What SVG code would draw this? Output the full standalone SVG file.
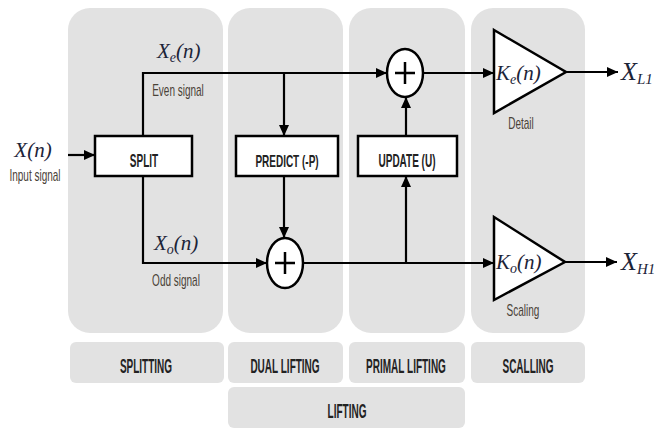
<svg xmlns="http://www.w3.org/2000/svg" width="657" height="431" viewBox="0 0 657 431">
<style>
.panel{fill:#e2e2e2}
.box{fill:#fff;stroke:#000;stroke-width:2.5}
.wire{fill:none;stroke:#000;stroke-width:2.2}
.lbl{font-family:"Liberation Sans",Arial,sans-serif;font-weight:bold;fill:#222;text-anchor:middle;font-size:10px}
.small{font-family:"Liberation Sans",Arial,sans-serif;fill:#4a4238;text-anchor:middle;font-size:10px}
.math{font-family:"Liberation Serif","Times New Roman",serif;font-style:italic;fill:#1c2438}
</style>
<defs>
<marker id="ah" markerUnits="userSpaceOnUse" markerWidth="12" markerHeight="12" viewBox="0 0 12 12" refX="11" refY="6" orient="auto">
<path d="M0,1 L11,6 L0,11 z" fill="#000"/>
</marker>
</defs>
<g id="panels">
<rect class="panel" x="68" y="8" width="155" height="325" rx="22"/>
<rect class="panel" x="228" y="8" width="115" height="325" rx="22"/>
<rect class="panel" x="349" y="8" width="116" height="325" rx="22"/>
<rect class="panel" x="471" y="8" width="114" height="325" rx="22"/>
</g>
<g id="label-splitting"><rect class="panel" x="70" y="342" width="154" height="41" rx="6"/><text class="lbl" transform="translate(146,373) scale(1,2.1)">SPLITTING</text></g>
<g id="label-dual"><rect class="panel" x="228" y="342" width="115" height="41" rx="6"/><text class="lbl" transform="translate(285,373) scale(1,2.1)">DUAL LIFTING</text></g>
<g id="label-primal"><rect class="panel" x="349" y="342" width="116" height="41" rx="6"/><text class="lbl" transform="translate(406,373) scale(1,2.1)">PRIMAL LIFTING</text></g>
<g id="label-scalling"><rect class="panel" x="471" y="342" width="114" height="41" rx="6"/><text class="lbl" transform="translate(528,373) scale(1,2.1)">SCALLING</text></g>
<g id="label-lifting"><rect class="panel" x="228" y="387" width="237" height="41" rx="6"/><text class="lbl" transform="translate(347,418) scale(1,2.1)">LIFTING</text></g>

<g id="connectors">
<path class="wire" d="M68,155 H95" marker-end="url(#ah)"/>
<path class="wire" d="M143,136 V73 H387" marker-end="url(#ah)"/>
<path class="wire" d="M284,73 V136" marker-end="url(#ah)"/>
<path class="wire" d="M284,176 V238" marker-end="url(#ah)"/>
<path class="wire" d="M143,176 V263 H267" marker-end="url(#ah)"/>
<path class="wire" d="M303,263 H494" marker-end="url(#ah)"/>
<path class="wire" d="M406,263 V176" marker-end="url(#ah)"/>
<path class="wire" d="M406,136 V97" marker-end="url(#ah)"/>
<path class="wire" d="M423,73 H494" marker-end="url(#ah)"/>
<path class="wire" d="M566,72 H618" marker-end="url(#ah)"/>
<path class="wire" d="M565,262 H617" marker-end="url(#ah)"/>
</g>

<g id="input">
<text class="math" x="33" y="157" font-size="21" text-anchor="middle">X(n)</text>
<text class="small" transform="translate(35,181) scale(1,1.6)" font-size="10.5">Input signal</text>
</g>
<g id="split"><rect class="box" x="95" y="136" width="97" height="40"/><text class="lbl" font-size="11.3" transform="translate(144,167) scale(1,1.75)">SPLIT</text></g>
<g id="predict"><rect class="box" x="236" y="136" width="102" height="40"/><text class="lbl" font-size="12" transform="translate(287,167) scale(1,1.65)">PREDICT (-P)</text></g>
<g id="update"><rect class="box" x="358" y="136" width="99" height="40"/><text class="lbl" font-size="10.4" transform="translate(407,167) scale(1,1.85)">UPDATE (U)</text></g>

<g id="even-label">
<text class="math" x="157" y="58" font-size="21">X<tspan font-size="14" dy="4">e</tspan><tspan dy="-4">(n)</tspan></text>
<text class="small" transform="translate(178,96) scale(1,1.6)">Even signal</text>
</g>
<g id="odd-label">
<text class="math" x="154" y="250" font-size="21">X<tspan font-size="14" dy="4">o</tspan><tspan dy="-4">(n)</tspan></text>
<text class="small" transform="translate(176,286) scale(1,1.6)">Odd signal</text>
</g>

<g id="sum-upper">
<ellipse cx="405" cy="73" rx="18" ry="24" fill="#fff" stroke="#000" stroke-width="2.5"/>
<path d="M395,73 H415 M405,62 V84" stroke="#000" stroke-width="2.5"/>
</g>
<g id="sum-lower">
<ellipse cx="285" cy="263" rx="18" ry="25" fill="#fff" stroke="#000" stroke-width="2.5"/>
<path d="M275,263 H295 M285,252 V274" stroke="#000" stroke-width="2.5"/>
</g>

<g id="gain-even">
<polygon points="494,30 566,72 494,113" fill="#fff" stroke="#000" stroke-width="2.5"/>
<text class="math" x="496" y="80" font-size="21">K<tspan font-size="14" dy="4">e</tspan><tspan dy="-4">(n)</tspan></text>
<text class="small" transform="translate(521,129) scale(1,1.6)">Detail</text>
</g>
<g id="gain-odd">
<polygon points="494,217 565,262 494,300" fill="#fff" stroke="#000" stroke-width="2.5"/>
<text class="math" x="496" y="269" font-size="21">K<tspan font-size="14" dy="4">o</tspan><tspan dy="-4">(n)</tspan></text>
<text class="small" transform="translate(523,316) scale(1,1.6)">Scaling</text>
</g>

<g id="out-L1"><text class="math" x="621" y="80" font-size="26">X<tspan font-size="15" dy="4">L1</tspan></text></g>
<g id="out-H1"><text class="math" x="621" y="270" font-size="26">X<tspan font-size="15" dy="4">H1</tspan></text></g>
</svg>
